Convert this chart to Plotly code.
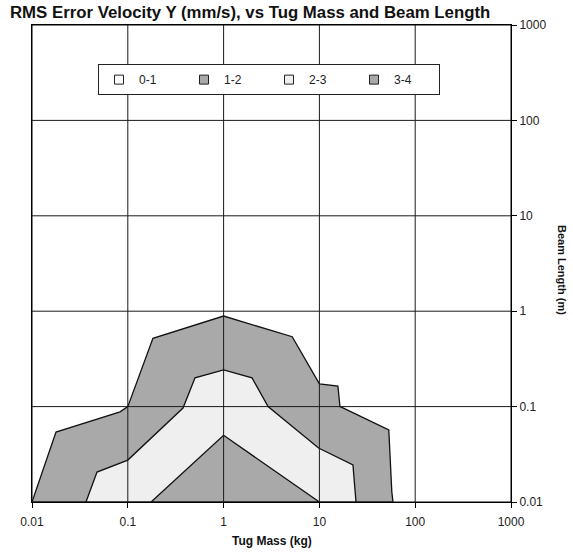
import plotly.graph_objects as go

# ---- data ----
levels = ["0-1", "1-2", "2-3", "3-4"]
level_colors = ["#ffffff", "#a9a9a9", "#efefef", "#a9a9a9"]

x_range = [0.01, 1000]
y_range = [0.01, 1000]

# outer boundary of 1-2 band (tug mass kg, beam length m)
band12_x = [0.01, 0.0178, 0.083, 0.1, 0.183, 1.0, 5.2, 9.6, 10.0, 15.6, 16.4, 17.6, 53, 57, 58.6]
band12_y = [0.01, 0.054, 0.088, 0.1, 0.52, 0.89, 0.54, 0.19, 0.173, 0.164, 0.1, 0.097, 0.057, 0.0128, 0.01]

# outer boundary of 2-3 band
band23_x = [0.0366, 0.0477, 0.1, 0.377, 0.503, 1.0, 1.98, 2.91, 9.8, 22.4, 24.1]
band23_y = [0.01, 0.0206, 0.0275, 0.0966, 0.2, 0.242, 0.2, 0.1, 0.0368, 0.0244, 0.01]

# outer boundary of 3-4 band
band34_x = [0.175, 1.0, 10.0]
band34_y = [0.01, 0.05, 0.01]

tick_vals = [0.01, 0.1, 1, 10, 100, 1000]
tick_text = ["0.01", "0.1", "1", "10", "100", "1000"]

FONT = "Liberation Sans, Arial, sans-serif"

fig = go.Figure()

# 0-1 region: whole plotting domain
fig.add_trace(go.Scatter(
    x=[x_range[0], x_range[1], x_range[1], x_range[0], x_range[0]],
    y=[y_range[0], y_range[0], y_range[1], y_range[1], y_range[0]],
    fill="toself", fillcolor=level_colors[0], mode="lines",
    line=dict(color="black", width=1), showlegend=False, hoverinfo="skip"))

for bx, by, col in [(band12_x, band12_y, level_colors[1]),
                    (band23_x, band23_y, level_colors[2]),
                    (band34_x, band34_y, level_colors[3])]:
    fig.add_trace(go.Scatter(
        x=bx + [bx[0]], y=by + [by[0]], fill="toself", fillcolor=col,
        mode="lines", line=dict(color="#111111", width=1.3),
        showlegend=False, hoverinfo="skip"))

# gridlines drawn above the filled areas
gx, gy = [], []
for t in tick_vals[1:-1]:
    gx += [t, t, None]
    gy += [y_range[0], y_range[1], None]
    gx += [x_range[0], x_range[1], None]
    gy += [t, t, None]
fig.add_trace(go.Scatter(x=gx, y=gy, mode="lines",
                         line=dict(color="#1a1a1a", width=1),
                         showlegend=False, hoverinfo="skip"))

# legend entries
for name, col in zip(levels, level_colors):
    fig.add_trace(go.Scatter(
        x=[None], y=[None], mode="markers", name=name,
        marker=dict(symbol="square", size=9, color=col,
                    line=dict(color="#222222", width=1))))

PLOT_W = 573 - 32 - 62
PLOT_H = 554 - 25 - 52

fig.update_layout(
    width=573, height=554,
    margin=dict(l=32, r=62, t=25, b=52, autoexpand=False),
    paper_bgcolor="white", plot_bgcolor="white",
    font=dict(family=FONT, size=11, color="#222222"),
    title=dict(text="<b>RMS Error Velocity Y (mm/s), vs Tug Mass and Beam Length</b>",
               font=dict(family=FONT, size=16.8, color="#111111"),
               x=10 / 573, xanchor="left", xref="container",
               y=1 - 12 / 554, yanchor="middle", yref="container"),
    legend=dict(orientation="h", x=0.1378, xanchor="left", y=0.918, yanchor="top",
                bgcolor="white", bordercolor="#222222", borderwidth=1,
                entrywidth=40, entrywidthmode="pixels", itemwidth=30,
                font=dict(family=FONT, size=12, color="#222222"),
                tracegroupgap=0),
    xaxis=dict(type="log", range=[-2, 3], tickvals=tick_vals, ticktext=tick_text,
               showgrid=False, zeroline=False, showline=True, linecolor="black",
               linewidth=1, mirror=True, ticks="outside", ticklen=5,
               tickcolor="black", tickfont=dict(size=12), ticklabelstandoff=4,
               automargin=False),
    yaxis=dict(type="log", range=[-2, 3], tickvals=tick_vals, ticktext=tick_text,
               side="right", showgrid=False, zeroline=False, showline=True,
               linecolor="black", linewidth=1, mirror=True, ticks="outside",
               ticklen=5, tickcolor="black", tickfont=dict(size=12),
               automargin=False),
    annotations=[
        dict(text="<b>Beam Length (m)</b>", textangle=90,
             x=(562 - 32) / PLOT_W, xref="paper",
             y=(502 - 270) / PLOT_H, yref="paper",
             xanchor="center", yanchor="middle", showarrow=False,
             font=dict(family=FONT, size=11, color="#111111")),
        dict(text="<b>Tug Mass (kg)</b>",
             x=0.5, xref="paper", y=(502 - 541) / PLOT_H, yref="paper",
             xanchor="center", yanchor="middle", showarrow=False,
             font=dict(family=FONT, size=12, color="#111111")),
    ],
)

fig.write_html("out.html")
